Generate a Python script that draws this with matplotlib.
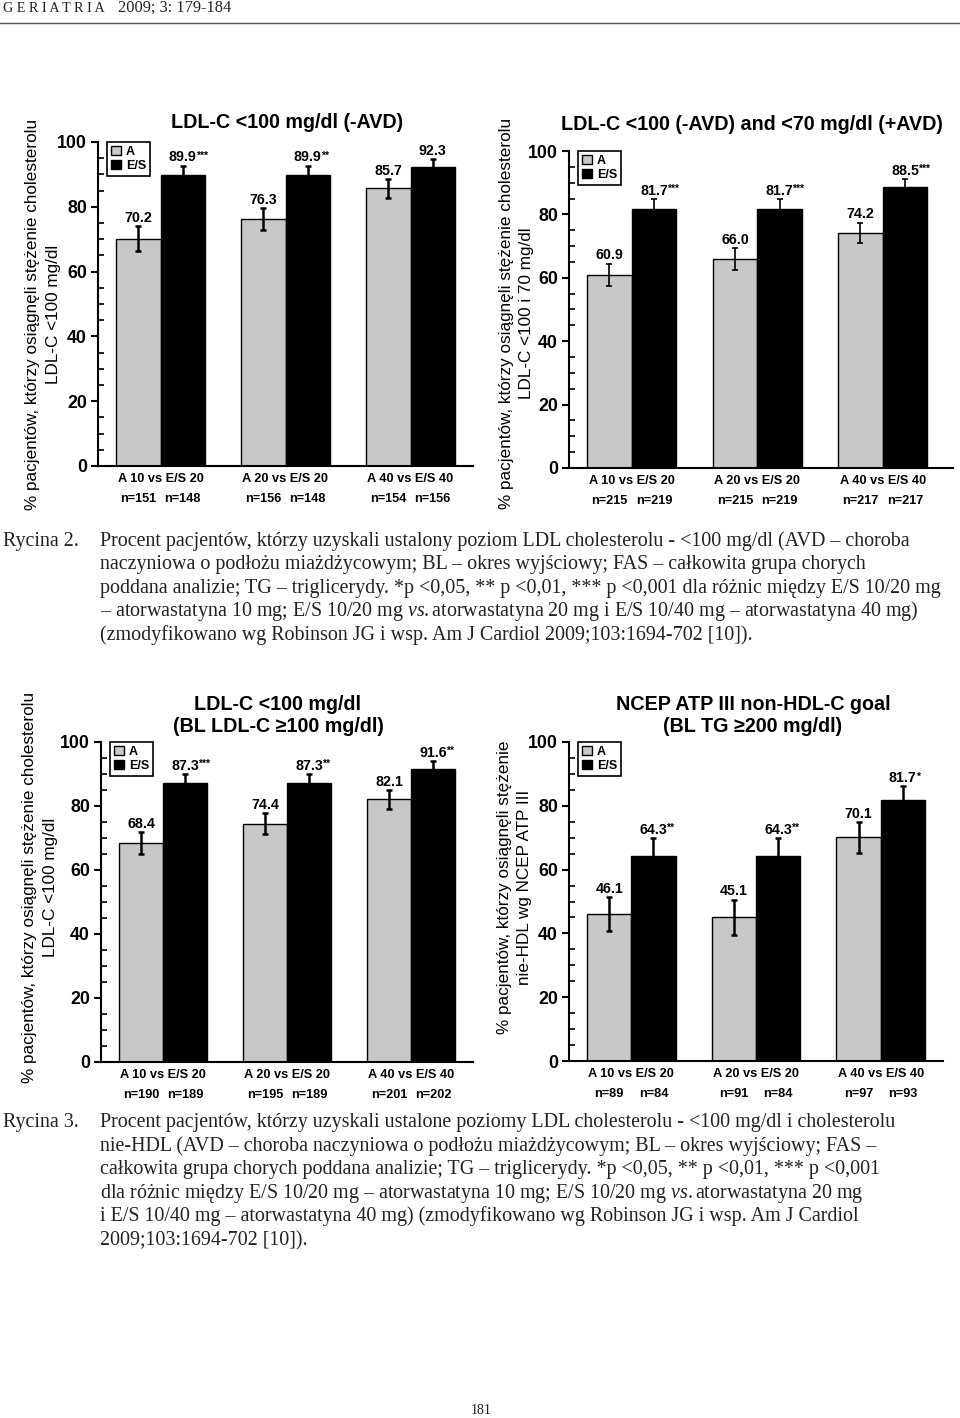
import matplotlib
matplotlib.use("Agg")
import matplotlib.pyplot as plt
import numpy as np
from matplotlib.ticker import MultipleLocator
from matplotlib.patches import Patch
from matplotlib.lines import Line2D

plt.rcParams['font.family'] = ['Liberation Sans', 'DejaVu Sans']
plt.rcParams['mathtext.fontset'] = 'custom'
plt.rcParams['mathtext.rm'] = 'Liberation Serif'
plt.rcParams['mathtext.it'] = 'Liberation Serif:italic'

# data
groups = ["A 10 vs E/S 20", "A 20 vs E/S 20", "A 40 vs E/S 40"]

p1_a = [70.2, 76.3, 85.7]
p1_es = [89.9, 89.9, 92.3]
p1_a_err = [3.8, 3.4, 2.9]
p1_es_err = [2.8, 2.8, 2.3]
p1_stars = ["***", "**", ""]
p1_n_a = [151, 156, 154]
p1_n_es = [148, 148, 156]

p2_a = [60.9, 66.0, 74.2]
p2_es = [81.7, 81.7, 88.5]
p2_a_err = [3.6, 3.4, 3.2]
p2_es_err = [3.1, 3.1, 2.6]
p2_stars = ["***", "***", "***"]
p2_n_a = [215, 215, 217]
p2_n_es = [219, 219, 217]

p3_a = [68.4, 74.4, 82.1]
p3_es = [87.3, 87.3, 91.6]
p3_a_err = [3.5, 3.3, 3.0]
p3_es_err = [2.8, 2.8, 2.5]
p3_stars = ["***", "**", "**"]
p3_n_a = [190, 195, 201]
p3_n_es = [189, 189, 202]

p4_a = [46.1, 45.1, 70.1]
p4_es = [64.3, 64.3, 81.7]
p4_a_err = [5.3, 5.5, 4.9]
p4_es_err = [5.6, 5.6, 4.4]
p4_stars = ["**", "**", "*"]
p4_n_a = [89, 91, 97]
p4_n_es = [84, 84, 93]

cap2 = [
    "Procent pacjentów, którzy uzyskali ustalony poziom LDL cholesterolu - <100 mg/dl (AVD – choroba",
    "naczyniowa o podłożu miażdżycowym; BL – okres wyjściowy; FAS – całkowita grupa chorych",
    "poddana analizie; TG – triglicerydy. *p <0,05, ** p <0,01, *** p <0,001 dla różnic między E/S 10/20 mg",
    "– atorwastatyna 10 mg; E/S 10/20 mg $\\mathit{vs.}$atorwastatyna 20 mg i E/S 10/40 mg – atorwastatyna 40 mg)",
    "(zmodyfikowano wg Robinson JG i wsp. Am J Cardiol 2009;103:1694-702 [10]).",
]
cap3 = [
    "Procent pacjentów, którzy uzyskali ustalone poziomy LDL cholesterolu - <100 mg/dl i cholesterolu",
    "nie-HDL (AVD – choroba naczyniowa o podłożu miażdżycowym; BL – okres wyjściowy; FAS –",
    "całkowita grupa chorych poddana analizie; TG – triglicerydy. *p <0,05, ** p <0,01, *** p <0,001",
    "dla różnic między E/S 10/20 mg – atorwastatyna 10 mg; E/S 10/20 mg $\\mathit{vs.}$atorwastatyna 20 mg",
    "i E/S 10/40 mg – atorwastatyna 40 mg) (zmodyfikowano wg Robinson JG i wsp. Am J Cardiol",
    "2009;103:1694-702 [10]).",
]

W, H = 960, 1418
fig = plt.figure(figsize=(9.6, 14.18), dpi=100)
GRAY = '#c8c8c8'


def fx(x):
    return x / W


def fy(y):
    return 1 - y / H


def panel(box, a, es, a_err, es_err, stars, n_a, n_es, ylab, ylab_x, ylab_y,
          titles, title_x, title_y, xmax=2.5, elw=1.6):
    left, top, right, bottom = box
    ax = fig.add_axes([fx(left), fy(bottom), (right - left) / W, (bottom - top) / H])
    x = np.arange(len(groups))
    w = 0.355
    ax.bar(x - w / 2, a, w, color=GRAY, edgecolor='black', linewidth=1, zorder=2)
    ax.bar(x + w / 2, es, w, color='black', edgecolor='black', linewidth=1, zorder=2)
    ax.errorbar(x - w / 2, a, yerr=a_err, fmt='none', ecolor='black',
                elinewidth=elw, capsize=2.5, capthick=elw, zorder=3)
    ax.errorbar(x + w / 2, es, yerr=es_err, fmt='none', ecolor='black',
                elinewidth=elw, capsize=2.5, capthick=elw, zorder=3)

    # value labels
    for xi, v, e in zip(x - w / 2, a, a_err):
        ax.annotate(f'{v:.1f}', (xi, v + e), xytext=(0, 3), textcoords='offset points',
                    ha='center', va='baseline', fontsize=10.3, fontweight='bold')
    for xi, v, e, s in zip(x + w / 2, es, es_err, stars):
        ax.annotate(f'{v:.1f}', (xi, v + e), xytext=(0, 3), textcoords='offset points',
                    ha='center', va='baseline', fontsize=10.3, fontweight='bold')
        if s:
            ax.annotate(s, (xi, v + e), xytext=(9.3, 5), textcoords='offset points',
                        ha='left', va='baseline', fontsize=7.5, fontweight='bold')

    # category labels + n
    for i, g in enumerate(groups):
        ax.annotate(g, (x[i], 0), xycoords=('data', 'axes fraction'), xytext=(0, -9.5),
                    textcoords='offset points', ha='center', va='center',
                    fontsize=9.2, fontweight='bold')
        ax.annotate(f'n={n_a[i]}', (x[i] - w / 2, 0), xycoords=('data', 'axes fraction'),
                    xytext=(0, -24), textcoords='offset points', ha='center', va='center',
                    fontsize=9.2, fontweight='bold')
        ax.annotate(f'n={n_es[i]}', (x[i] + w / 2, 0), xycoords=('data', 'axes fraction'),
                    xytext=(0, -24), textcoords='offset points', ha='center', va='center',
                    fontsize=9.2, fontweight='bold')

    ax.set_xlim(-0.5, xmax)
    ax.set_ylim(0, 100)
    ax.set_xticks([])
    ax.yaxis.set_major_locator(MultipleLocator(20))
    ax.yaxis.set_minor_locator(MultipleLocator(5))
    ax.tick_params(axis='y', which='major', direction='out', length=5, width=1.5,
                   labelsize=12.8, pad=3)
    ax.tick_params(axis='y', which='minor', direction='in', length=4, width=1.2)
    for lbl in ax.get_yticklabels():
        lbl.set_fontweight('bold')
    for s in ['top', 'right']:
        ax.spines[s].set_visible(False)
    for s in ['left', 'bottom']:
        ax.spines[s].set_linewidth(1.5)

    handles = [Patch(facecolor=GRAY, edgecolor='black'), Patch(facecolor='black', edgecolor='black')]
    leg = ax.legend(handles, ['A', 'E/S'], loc='upper left', bbox_to_anchor=(9 / (right - left), 1.0),
                    borderaxespad=0, fancybox=False, edgecolor='black', framealpha=1,
                    prop=dict(weight='bold', size=9), handlelength=0.8, handleheight=0.8,
                    handletextpad=0.4, labelspacing=0.15, borderpad=0.3)
    leg.get_frame().set_linewidth(1.2)

    # y label lines
    for txt, lx in zip(ylab, ylab_x):
        fig.text(fx(lx), fy(ylab_y), txt, rotation=90, ha='center', va='center', fontsize=12.3)
    # titles
    for txt, ty in zip(titles, title_y):
        fig.text(fx(title_x), fy(ty), txt, ha='center', va='center', fontsize=14.2, fontweight='bold')
    return ax


panel((98, 142, 473, 466), p1_a, p1_es, p1_a_err, p1_es_err, p1_stars, p1_n_a, p1_n_es,
      ["% pacjentów, którzy osiągnęli stężenie cholesterolu", "LDL-C <100 mg/dl"], [33, 54], 314,
      ["LDL-C <100 mg/dl (-AVD)"], 287, [123], elw=1.8)

panel((569, 151, 953, 468), p2_a, p2_es, p2_a_err, p2_es_err, p2_stars, p2_n_a, p2_n_es,
      ["% pacjentów, którzy osiągnęli stężenie cholesterolu", "LDL-C <100 i 70 mg/dl"], [506, 527], 313,
      ["LDL-C <100 (-AVD) and <70 mg/dl (+AVD)"], 752, [125], xmax=2.56, elw=1.2)

panel((101, 742, 473, 1062), p3_a, p3_es, p3_a_err, p3_es_err, p3_stars, p3_n_a, p3_n_es,
      ["% pacjentów, którzy osiągnęli stężenie cholesterolu", "LDL-C <100 mg/dl"], [30, 51], 887,
      ["LDL-C <100 mg/dl", "(BL LDL-C ≥100 mg/dl)"], 278, [705, 727], elw=1.8)

panel((569, 742, 943, 1061), p4_a, p4_es, p4_a_err, p4_es_err, p4_stars, p4_n_a, p4_n_es,
      ["% pacjentów, którzy osiągnęli stężenie", "nie-HDL wg NCEP ATP III"], [505, 524], 887,
      ["NCEP ATP III non-HDL-C goal", "(BL TG ≥200 mg/dl)"], 753, [705, 727], elw=1.8)

# header
fig.text(fx(3), fy(12), "G E R I A T R I A", fontsize=10.2, family='Liberation Serif',
         ha='left', va='baseline', color='#222222')
fig.text(fx(118), fy(12), "2009; 3: 179-184", fontsize=11.8, family='Liberation Serif',
         ha='left', va='baseline', color='#222222')
fig.add_artist(Line2D([0, 1], [fy(23), fy(23)], transform=fig.transFigure, color='#555555', linewidth=1))

# captions
capsize_pt = 14.4
fig.text(fx(3), fy(546), "Rycina 2.", fontsize=capsize_pt, family='Liberation Serif',
         ha='left', va='baseline', color='#222222')
for i, line in enumerate(cap2):
    fig.text(fx(100), fy(546 + i * 23.5), line, fontsize=capsize_pt, family='Liberation Serif',
             ha='left', va='baseline', color='#222222')

fig.text(fx(3), fy(1127), "Rycina 3.", fontsize=capsize_pt, family='Liberation Serif',
         ha='left', va='baseline', color='#222222')
for i, line in enumerate(cap3):
    fig.text(fx(100), fy(1127 + i * 23.6), line, fontsize=capsize_pt, family='Liberation Serif',
             ha='left', va='baseline', color='#222222')

fig.text(fx(481), fy(1410), "181", fontsize=10, family='Liberation Serif',
         ha='center', va='center', color='#222222')

plt.savefig('out.png', dpi=100)
